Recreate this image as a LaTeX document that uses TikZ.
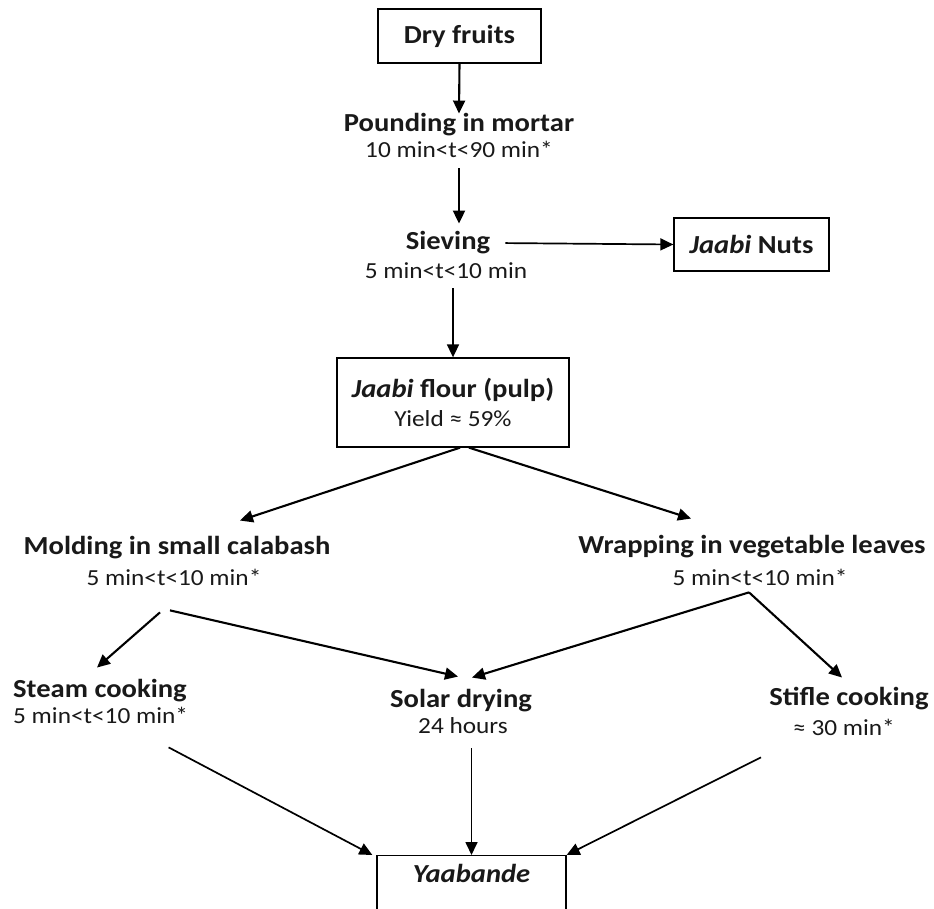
\documentclass[tikz,border=0pt]{standalone}
\usepackage{fontspec}
\setmainfont{Carlito}[FakeStretch=1.1]
\usetikzlibrary{arrows.meta}
\newcommand\tfont{\fontsize{26}{30}\selectfont\bfseries}
\newcommand\sfont{\fontsize{23}{27}\selectfont}
\begin{document}
\begin{tikzpicture}[x=1pt,y=-1pt,
  every node/.style={inner sep=0pt, text=black!90},
  box/.style={draw, line width=1.3pt},
  arr/.style={-{Triangle[length=13pt,width=12pt]}, line width=1.7pt},
  thick arr/.style={arr, line width=2.1pt},
  ttl/.style={font=\tfont, anchor=base},
  sub/.style={font=\sfont, anchor=base}]
\useasboundingbox (0,0) rectangle (934,909);
\clip (0,0) rectangle (934,909);
\fill[white] (0,0) rectangle (934,909);

\node[box, minimum width=163pt, minimum height=54pt, font=\tfont] (dry) at (459.5,36) {Dry fruits};
\node[ttl] (pound) at (459,132) {Pounding in mortar};
\node[sub] (poundt) at (459,158) {10 min<t<90 min*};
\node[ttl] (sieve) at (448,250) {Sieving};
\node[sub] (sievet) at (446,279) {5 min<t<10 min};
\node[box, minimum width=155pt, minimum height=53pt, font=\tfont] (nuts) at (751.5,244.5) {\textit{Jaabi} Nuts};
\node[box, minimum width=232pt, minimum height=89pt, align=center, font=\sfont] (flour) at (453,402.5) {{\tfont\textit{Jaabi} flour (pulp)}\\[2pt]Yield ≈ 59\%};
\node[ttl] (mold) at (177,554) {Molding in small calabash};
\node[sub] (moldt) at (174,585) {5 min<t<10 min*};
\node[ttl] (wrap) at (752,553) {Wrapping in vegetable leaves};
\node[sub] (wrapt) at (760,585) {5 min<t<10 min*};
\node[ttl, anchor=base west] (steam) at (13,697) {Steam cooking};
\node[sub, anchor=base west] (steamt) at (13,723) {5 min<t<10 min*};
\node[ttl] (solar) at (461,707) {Solar drying};
\node[sub] (solart) at (463,733) {24 hours};
\node[ttl] (stifle) at (849,705) {Stifle cooking};
\node[sub] (stiflet) at (844,735) {≈ 30 min*};
\node[box, anchor=north, minimum width=189pt, inner ysep=9pt, text depth=35pt, font=\tfont\itshape] (yaab) at (471.5,855) {Yaabande};

\draw[thick arr] (dry.south) -- (pound.north);
\draw[thick arr] ([yshift=-10pt]poundt.south) -- ([yshift=8pt]poundt.south |- sieve.north);
\draw[arr] ([xshift=15pt]sieve.east) -- (nuts.west);
\draw[arr] ([yshift=-9pt]sievet.south -| flour.north) -- (flour.north);
\draw[thick arr] ([xshift=7pt]flour.south) -- ([shift={(63pt,15pt)}]mold.north);
\draw[thick arr] ([xshift=16pt]flour.south) -- ([shift={(-61pt,16pt)}]wrap.north);
\draw[thick arr] ([shift={(-14pt,-27pt)}]moldt.south) -- ([shift={(-3pt,11pt)}]steam.north);
\draw[thick arr] ([shift={(-4pt,-25pt)}]moldt.south) -- ([shift={(-3pt,12pt)}]solar.north);
\draw[thick arr] ([shift={(-11pt,-7pt)}]wrapt.south) -- ([shift={(11pt,11pt)}]solar.north);
\draw[thick arr] ([shift={(-11pt,-7pt)}]wrapt.south) -- ([shift={(-7pt,9pt)}]stifle.north);
\draw[arr] ([shift={(68pt,-24pt)}]steamt.south) -- ([xshift=-4pt]yaab.north west);
\draw[arr] ([yshift=-15pt]solart.south -| yaab.north) -- (yaab.north);
\draw[arr] ([shift={(-83pt,-22pt)}]stiflet.south) -- (yaab.north east);
\end{tikzpicture}
\end{document}
